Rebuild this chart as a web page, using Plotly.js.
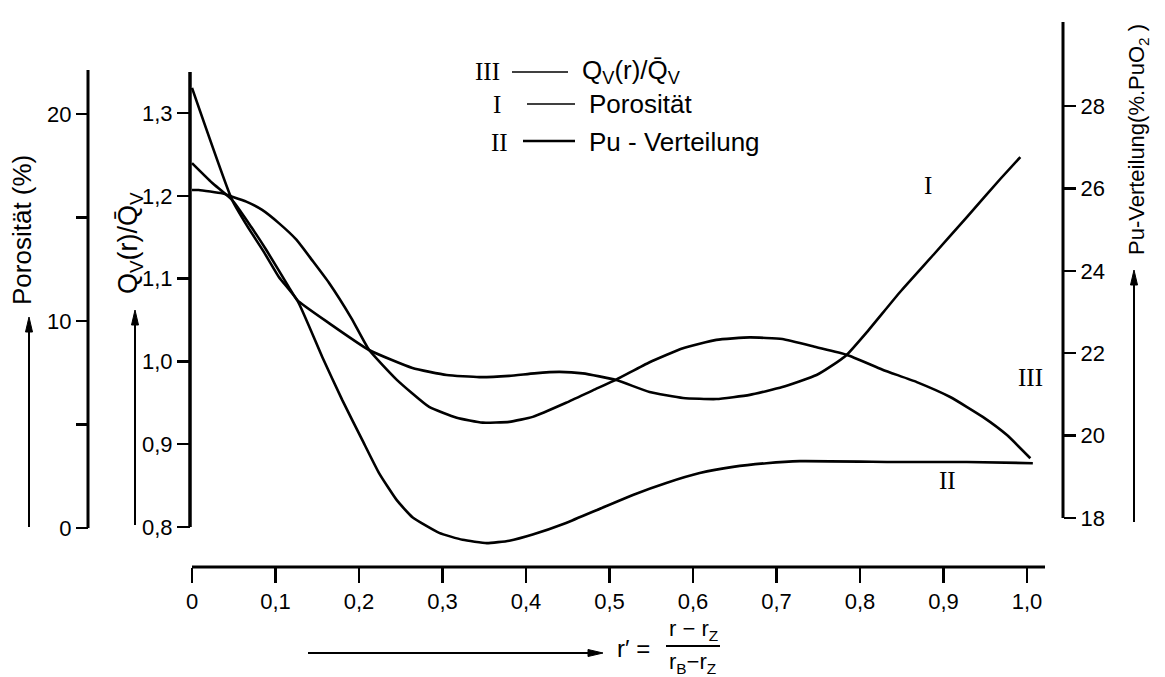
<!DOCTYPE html>
<html><head><meta charset="utf-8">
<script src="https://cdn.plot.ly/plotly-3.0.1.min.js"></script>
<style>html,body{margin:0;padding:0;background:#fff}#chart{width:1165px;height:677px}</style>
</head><body><div id="chart"></div>
<script>
// ---- data ----
const rQ = [0, 0.008, 0.036, 0.048, 0.065, 0.084, 0.104, 0.125, 0.144, 0.164, 0.191, 0.212, 0.245, 0.284, 0.317, 0.348, 0.380, 0.408, 0.448, 0.480, 0.508, 0.548, 0.588, 0.628, 0.668, 0.707, 0.748, 0.784, 0.827, 0.868, 0.908, 0.947, 0.976, 1.004];
const qv = [1.207, 1.207, 1.203, 1.199, 1.193, 1.183, 1.167, 1.147, 1.122, 1.095, 1.052, 1.014, 0.978, 0.945, 0.932, 0.926, 0.927, 0.933, 0.950, 0.965, 0.978, 0.999, 1.016, 1.026, 1.029, 1.027, 1.017, 1.008, 0.990, 0.975, 0.957, 0.933, 0.911, 0.883];

const rPor = [0, 0.024, 0.048, 0.071, 0.089, 0.116, 0.126, 0.164, 0.212, 0.264, 0.305, 0.344, 0.380, 0.410, 0.440, 0.468, 0.508, 0.548, 0.588, 0.628, 0.668, 0.707, 0.748, 0.764, 0.784, 0.808, 0.848, 0.888, 0.928, 0.968, 0.992];
const porositaet = [17.63, 16.68, 15.85, 14.54, 13.43, 11.64, 11.01, 9.90, 8.60, 7.73, 7.39, 7.29, 7.35, 7.47, 7.54, 7.47, 7.15, 6.57, 6.28, 6.23, 6.43, 6.81, 7.39, 7.78, 8.36, 9.45, 11.40, 13.20, 15.02, 16.86, 17.92];

const rPu = [0, 0.048, 0.066, 0.086, 0.104, 0.126, 0.156, 0.180, 0.204, 0.224, 0.245, 0.264, 0.296, 0.324, 0.353, 0.380, 0.408, 0.448, 0.488, 0.528, 0.568, 0.608, 0.648, 0.688, 0.728, 0.848, 0.928, 1.007];
const puVert = [28.44, 25.72, 25.09, 24.46, 23.85, 23.29, 21.91, 20.86, 19.89, 19.09, 18.44, 18.02, 17.64, 17.47, 17.39, 17.45, 17.60, 17.88, 18.22, 18.56, 18.85, 19.09, 19.24, 19.33, 19.38, 19.36, 19.36, 19.33];

const xTickVals = [0, 0.1, 0.2, 0.3, 0.4, 0.5, 0.6, 0.7, 0.8, 0.9, 1.0];
const xTickText = ['0', '0,1', '0,2', '0,3', '0,4', '0,5', '0,6', '0,7', '0,8', '0,9', '1,0'];
const qTickVals = [0.8, 0.9, 1.0, 1.1, 1.2, 1.3];
const qTickText = ['0,8', '0,9', '1,0', '1,1', '1,2', '1,3'];
const porTickVals = [0, 10, 20];
const porTickText = ['0', '10', '20'];
const porMinorVals = [5, 15];
const puTickVals = [18, 20, 22, 24, 26, 28];
const puTickText = ['18', '20', '22', '24', '26', '28'];

// ---- layout geometry ----
const W = 1165, H = 677;
const px = v => v / W, py = v => 1 - v / H;
const X0 = 192, XS = 835;          // r'=0 at 192 px, 835 px per unit
const Q0 = 527, QS = 828;          // 0.8 at 527 px
const P0 = 528, PS = 20.7;         // 0 % at 528 px
const U0 = 518, US = 41.2;         // 18 % at 518 px

const tickFont = {family: 'Liberation Sans, Arial, sans-serif', size: 22, color: '#000'};
const labFont = {family: 'Liberation Sans, Arial, sans-serif', size: 25, color: '#000'};
const serif = {family: 'Liberation Serif, Times New Roman, serif', size: 25, color: '#000'};
const lineSty = {color: '#000', width: 2.6, shape: 'spline', smoothing: 0.45};

const traces = [
  {x: rQ, y: qv, yaxis: 'y', type: 'scatter', mode: 'lines', line: lineSty, name: 'III', hoverinfo: 'skip'},
  {x: rPor, y: porositaet, yaxis: 'y2', type: 'scatter', mode: 'lines', line: lineSty, name: 'I', hoverinfo: 'skip'},
  {x: rPu, y: puVert, yaxis: 'y3', type: 'scatter', mode: 'lines', line: lineSty, name: 'II', hoverinfo: 'skip'}
];

const axCommon = {showgrid: false, zeroline: false, showline: false, ticks: 'outside', tickcolor: '#000', tickwidth: 2.5, tickfont: tickFont, tickmode: 'array', fixedrange: true};

const ann = (text, x, y, opt) => Object.assign({text: text, x: px(x), y: py(y), xref: 'paper', yref: 'paper', showarrow: false, xanchor: 'center', yanchor: 'middle', font: labFont}, opt || {});
const hline = (x0, x1, y, w) => ({type: 'line', xref: 'paper', yref: 'paper', x0: px(x0), x1: px(x1), y0: py(y), y1: py(y), line: {color: '#000', width: w}});
const vline = (x, y0, y1, w) => ({type: 'line', xref: 'paper', yref: 'paper', x0: px(x), x1: px(x), y0: py(y0), y1: py(y1), line: {color: '#000', width: w}});
const tri = pts => ({type: 'path', xref: 'paper', yref: 'paper', path: 'M ' + pts.map(p => px(p[0]) + ' ' + py(p[1])).join(' L ') + ' Z', fillcolor: '#000', line: {color: '#000', width: 1}});
const upArrow = (x, top, bottom) => [vline(x, top + 10, bottom, 2), tri([[x, top], [x - 3.5, top + 15], [x + 3.5, top + 15]])];
const rightArrow = (x0, tip, y) => [hline(x0, tip - 10, y, 2), tri([[tip, y], [tip - 15, y - 3.5], [tip - 15, y + 3.5]])];

const layout = {
  width: W, height: H,
  margin: {l: 0, r: 0, t: 0, b: 0, pad: 0},
  paper_bgcolor: '#fff', plot_bgcolor: 'rgba(0,0,0,0)',
  showlegend: false,
  xaxis: Object.assign({}, axCommon, {domain: [0, 1], range: [-X0 / XS, (W - X0) / XS], anchor: 'free', position: py(567), ticklen: 15, tickvals: xTickVals, ticktext: xTickText}),
  yaxis: Object.assign({}, axCommon, {domain: [0, 1], range: [0.8 - (H - Q0) / QS, 0.8 + Q0 / QS], anchor: 'free', position: px(190), side: 'left', ticklen: 13, tickvals: qTickVals, ticktext: qTickText}),
  yaxis2: Object.assign({}, axCommon, {overlaying: 'y', range: [-(H - P0) / PS, P0 / PS], anchor: 'free', position: px(88), side: 'left', ticklen: 12, tickvals: porTickVals, ticktext: porTickText,
    minor: {tickmode: 'array', tickvals: porMinorVals, ticks: 'outside', ticklen: 12, tickwidth: 2.5, tickcolor: '#000', showgrid: false}}),
  yaxis3: Object.assign({}, axCommon, {overlaying: 'y', range: [18 - (H - U0) / US, 18 + U0 / US], anchor: 'free', position: px(1063), side: 'right', ticklen: 12, tickvals: puTickVals, ticktext: puTickText}),
  shapes: [
    // axis lines (in the axes' own data units)
    {type: 'line', xref: 'x', yref: 'paper', x0: 0, x1: (1045 - X0) / XS, y0: py(567), y1: py(567), line: {color: '#000', width: 3}},
    {type: 'line', xref: 'paper', yref: 'y', x0: px(190), x1: px(190), y0: 0.8, y1: 0.8 + (Q0 - 72) / QS, line: {color: '#000', width: 3.5}},
    {type: 'line', xref: 'paper', yref: 'y2', x0: px(88), x1: px(88), y0: 0, y1: (P0 - 70) / PS, line: {color: '#000', width: 3}},
    {type: 'line', xref: 'paper', yref: 'y3', x0: px(1063), x1: px(1063), y0: 18, y1: 18 + (U0 - 22) / US, line: {color: '#000', width: 3}},
    // legend strokes
    hline(512, 568, 72, 1.6),
    hline(527, 575, 104, 1.6),
    hline(523, 575, 141, 2.6),
    // fraction bar
    hline(666, 720, 646, 1.8)
  ].concat(upArrow(29, 317, 527), upArrow(135, 310, 525), upArrow(1134, 270, 522), rightArrow(308, 603, 653)),
  annotations: [
    // axis titles
    ann('Porosität (%)', 22, 230, {textangle: -90, font: Object.assign({}, labFont, {size: 26})}),
    ann('Q<sub>V</sub>(r)/Q\u0304<sub>V</sub>', 130, 243, {textangle: -90, font: Object.assign({}, labFont, {size: 27})}),
    ann('Pu-Verteilung(%.PuO<sub>2</sub> )', 1138, 140, {textangle: -90, font: Object.assign({}, labFont, {size: 22})}),
    // legend
    ann('III', 487, 71, {font: serif}),
    ann('I', 497, 105, {font: serif}),
    ann('II', 499, 142, {font: serif}),
    ann('Q<sub>V</sub>(r)/Q\u0304<sub>V</sub>', 580, 71, {xanchor: 'left', font: Object.assign({}, labFont, {size: 26})}),
    ann('Porosität', 587, 104, {xanchor: 'left', font: Object.assign({}, labFont, {size: 26})}),
    ann('Pu - Verteilung', 587, 142, {xanchor: 'left', font: Object.assign({}, labFont, {size: 26})}),
    // curve labels
    ann('I', 928, 185, {font: serif}),
    ann('III', 1030, 377, {font: serif}),
    ann('II', 947, 480, {font: serif}),
    // x-axis formula
    ann('r\u2032 =', 615, 648, {xanchor: 'left', font: Object.assign({}, labFont, {size: 24})}),
    ann('r \u2212 r<sub>Z</sub>', 693, 630, {font: Object.assign({}, labFont, {size: 22})}),
    ann('r<sub>B</sub>\u2212r<sub>Z</sub>', 692, 663, {font: Object.assign({}, labFont, {size: 22})})
  ]
};

Plotly.newPlot('chart', traces, layout, {staticPlot: true, displayModeBar: false});
</script>
</body></html>
